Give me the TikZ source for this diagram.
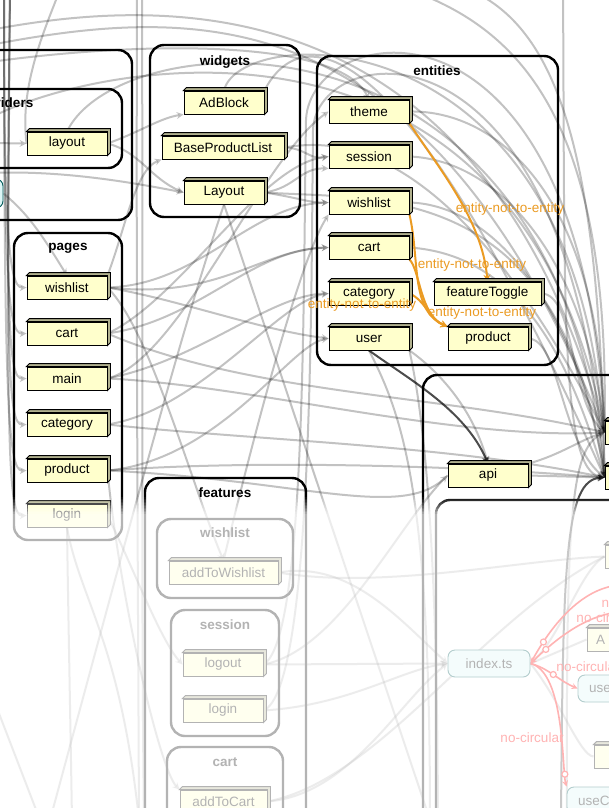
\documentclass[tikz,border=0pt]{standalone}
\usepackage{fontspec}
\setmainfont{Liberation Sans}
\usetikzlibrary{arrows,calc}
\definecolor{modfill}{HTML}{FFFFCC}
\definecolor{tsfill}{HTML}{DDF6F6}
\definecolor{rulecol}{RGB}{235,155,35}
\newcommand{\gsize}{\fontsize{13.5}{16}\selectfont}
\pgfdeclarelayer{background}
\pgfdeclarelayer{edges}
\pgfsetlayers{background,edges,main}

\begin{document}
\begin{tikzpicture}[x=1pt,y=-1pt,
    cluster/.style={draw=black,line width=2.4,rounded corners=14},
    clabel/.style={font=\gsize\bfseries},
    module/.style={draw=black,fill=modfill,line width=0.9,minimum width=80,minimum height=23,inner sep=1,font=\gsize},
    tsnode/.style={draw=teal!70!black,fill=tsfill,rounded corners=7,line width=0.9,minimum width=82,minimum height=27,font=\gsize},
    dep/.style={draw=black,opacity=0.24,line width=2},
    deparr/.style={dep,-stealth},
    hotdep/.style={draw=black,opacity=0.7,line width=2,-stealth},
    rule/.style={draw=rulecol,line width=2,-stealth},
    rulelabel/.style={text=rulecol,font=\gsize},
    circ/.style={draw=red,line width=1.6,-stealth},
    circlabel/.style={text=red,font=\gsize},
    ring/.style={draw=red,fill=white,circle,line width=1.2,minimum size=6,inner sep=0}]
    \useasboundingbox (0,0) rectangle (608,808);

    \begin{pgfonlayer}{background}
        \fill[white] (0,0) rectangle (608,808);
        \draw[cluster] (-200,50) rectangle (132,220);
        \draw[cluster] (-117,89) rectangle (122,168);
        \draw[cluster] (150,45) rectangle (300,217);
        \draw[cluster] (317,56) rectangle (558,365);
        \draw[cluster] (14,233) rectangle (122,540);
        \draw[cluster] (145,478) rectangle (306,900);
        \draw[cluster] (157,519) rectangle (293,598);
        \draw[cluster] (171,610) rectangle (279,736);
        \draw[cluster] (167,747) rectangle (283,900);
        \draw[cluster] (423,375) rectangle (900,1000);
        \draw[cluster] (436,500) rectangle (900,1000);
    \end{pgfonlayer}

    \node[clabel] (lProviders) at (2.5,104) {providers};
    \node[clabel] (lWidgets) at (225,62) {widgets};
    \node[clabel] (lEntities) at (437,71) {entities};
    \node[clabel] (lPages) at (68,248) {pages};
    \node[clabel] (lFeatures) at (225,493) {features};
    \node[clabel] (lFWishlist) at (225,533) {wishlist};
    \node[clabel] (lFSession) at (225,625) {session};
    \node[clabel] (lFCart) at (225,762) {cart};

    \node[tsnode,minimum width=62,minimum height=29] (provIndex) at (-28,193.5) {};
    \node[module] (provLayout) at (67,143.5) {layout};

    \node[module] (wAdBlock) at (224,102.5) {AdBlock};
    \node[module,minimum width=122] (wBase) at (223,147.5) {BaseProductList};
    \node[module] (wLayout) at (224,192.5) {Layout};

    \node[module] (eTheme) at (369,111.5) {theme};
    \node[module] (eSession) at (369,156.5) {session};
    \node[module] (eWishlist) at (369,202.5) {wishlist};
    \node[module] (eCart) at (369,247.5) {cart};
    \node[module] (eCategory) at (369,293.5) {category};
    \node[module] (eUser) at (369,338.5) {user};
    \node[module,minimum width=107] (eToggle) at (487.5,293.5) {featureToggle};
    \node[module] (eProduct) at (488,338.5) {product};

    \node[module] (pWishlist) at (67,287.5) {wishlist};
    \node[module] (pCart) at (67,333.5) {cart};
    \node[module] (pMain) at (67,378.5) {main};
    \node[module] (pCategory) at (67,424.5) {category};
    \node[module] (pProduct) at (67,470.5) {product};
    \node[module] (pLogin) at (67,515.5) {login};

    \node[module] (api) at (488,475.5) {api};
    \node[module] (rsA) at (645,432.5) {};
    \node[module] (rsB) at (645,477.5) {};
    \node[module] (rsC) at (645,556.5) {};
    \node[module,text width=62,align=left] (rsD) at (627,639.5) {A};
    \node[module] (rsE) at (634,756.5) {};

    \node[module,minimum width=109] (fAddToWishlist) at (223.5,572.5) {addToWishlist};
    \node[module] (fLogout) at (223,664.5) {logout};
    \node[module] (fLogin) at (223,710.5) {login};
    \node[module,minimum width=87] (fAddToCart) at (223.5,801.5) {addToCart};

    \node[tsnode] (indexTs) at (489,663.5) {index.ts};
    \node[tsnode,text width=60,align=left] (useA) at (619,688.5) {use};
    \node[tsnode,text width=60,align=left] (useC) at (608,800.5) {useC};

    \coordinate (nw1) at (-10,30);
    \coordinate (nw1b) at (-10,45);
    \coordinate (nw2) at (-10,62);
    \coordinate (nw3) at (-10,118);
    \coordinate (nw4) at (-10,143);
    \coordinate (nw5) at (-10,173);
    \coordinate (top1) at (4,-10);
    \coordinate (top2) at (10,-10);
    \coordinate (top3) at (137,-10);
    \coordinate (top4) at (142,-10);
    \coordinate (top5) at (563,-10);
    \coordinate (top6) at (60,-10);
    \coordinate (top7) at (410,-10);
    \coordinate (top8) at (470,-10);
    \coordinate (bot1) at (139,820);
    \coordinate (bot2) at (144,820);
    \coordinate (bot3) at (50,820);
    \coordinate (bot4) at (72,820);
    \coordinate (bot5) at (430,820);
    \coordinate (bot6) at (438,820);
    \coordinate (bot7) at (561,820);
    \coordinate (bot8) at (567,820);
    \coordinate (bot9) at (40,820);
    \coordinate (west6) at (-10,690);
    \coordinate (east1) at (620,585);
    \coordinate (east2) at (620,612);

    \begin{pgfonlayer}{edges}
        \draw[deparr] (nw4) -- (provLayout.west);
        \draw[deparr] (provLayout.east) .. controls (140,132) and (160,118) .. (wAdBlock.south west);
        \draw[deparr] (provLayout.east) .. controls (140,152) and (150,178) .. (wLayout.west);
        \draw[deparr] (nw5) .. controls (60,170) and (130,182) .. (wLayout.west);
        \draw[deparr] (pWishlist.north east) .. controls (125,230) and (135,170) .. (wBase.south west);
        \draw[deparr] (nw2) .. controls (150,40) and (340,40) .. (eTheme.north);
        \draw[dep] (nw1) .. controls (150,0) and (480,-30) .. (rsA.west);
        \draw[dep] (nw1b) .. controls (200,5) and (430,-5) .. (rsA.west);
        \draw[dep] (nw3) .. controls (100,60) and (520,-20) .. (rsA.west);
        \draw[dep] (provLayout.north) .. controls (120,20) and (560,-10) .. (rsB.west);
        \draw[dep] (wAdBlock.north) .. controls (240,20) and (600,10) .. (rsB.west);
        \draw[dep] (wAdBlock.north east) .. controls (290,40) and (380,-25) .. (rsB.west);
        \draw[dep] (top6) .. controls (40,40) and (20,90) .. (provLayout.west);
        \draw[deparr] (top7) .. controls (520,30) and (610,120) .. (rsA.west);
        \draw[deparr] (top8) .. controls (560,30) and (600,160) .. (rsB.west);

        \draw[dep] (top3) .. controls (136,300) and (138,600) .. (bot1);
        \draw[dep] (top4) .. controls (143,300) and (141,600) .. (bot2);
        \draw[deparr] (fLogout.east) .. controls (306,640) and (303,300) .. (306,120) .. controls (310,20) and (580,-30) .. (rsA.west);
        \draw[deparr] (fLogin.east) .. controls (313,690) and (311,300) .. (313,130) .. controls (316,40) and (570,0) .. (rsB.west);

        \draw[deparr] (top1) .. controls (4,220) and (8,288) .. (pWishlist.west);
        \draw[deparr] (top1) .. controls (4,280) and (8,334) .. (pCart.west);
        \draw[deparr] (top2) .. controls (6,320) and (8,379) .. (pMain.west);
        \draw[deparr] (top2) .. controls (6,360) and (8,425) .. (pCategory.west);
        \draw[deparr] (top1) .. controls (4,400) and (8,471) .. (pProduct.west);
        \draw[deparr] (top2) .. controls (6,450) and (8,516) .. (pLogin.west);
        \draw[deparr] (provIndex.east) .. controls (30,215) and (45,240) .. (pWishlist.north);

        \draw[deparr] (pWishlist.east) .. controls (200,285) and (250,205) .. (eWishlist.west);
        \draw[deparr] (pWishlist.east) .. controls (220,300) and (260,250) .. (eCart.west);
        \draw[deparr] (pCart.east) .. controls (200,320) and (250,250) .. (eCart.west);
        \draw[deparr] (pCart.east) .. controls (180,300) and (260,165) .. (eSession.west);
        \draw[deparr] (pMain.east) .. controls (200,360) and (270,295) .. (eCategory.west);
        \draw[deparr] (pCategory.east) .. controls (200,410) and (280,300) .. (eCategory.west);
        \draw[deparr] (pProduct.east) .. controls (220,460) and (290,345) .. (eUser.west);
        \draw[deparr] (pWishlist.east) .. controls (180,300) and (260,330) .. (eUser.west);
        \draw[deparr] (pMain.east) .. controls (180,360) and (260,160) .. (eTheme.west);

        \draw[deparr] (pCart.east) .. controls (250,395) and (450,395) .. (rsA.west);
        \draw[deparr] (pMain.east) .. controls (250,385) and (450,440) .. (rsA.west);
        \draw[deparr] (pCategory.east) .. controls (250,440) and (450,445) .. (rsB.west);
        \draw[deparr] (pProduct.east) .. controls (250,460) and (450,465) .. (rsB.west);
        \draw[deparr] (pProduct.east) .. controls (300,480) and (400,520) .. (api.west);

        \draw[deparr] (wBase.east) .. controls (305,148) and (310,160) .. (eSession.west);
        \draw[deparr] (wLayout.east) .. controls (295,188) and (300,168) .. (eSession.south west);
        \draw[deparr] (wLayout.east) .. controls (300,198) and (310,203) .. (eWishlist.west);
        \draw[dep] (wLayout.south) .. controls (185,320) and (150,450) .. (bot3);
        \draw[dep] (wLayout.south) -- (bot5);
        \draw[deparr] (fAddToWishlist.north) .. controls (255,430) and (300,260) .. (eWishlist.south west);
        \draw[deparr] (wBase.east) .. controls (330,140) and (450,130) .. (rsA.west);
        \draw[deparr] (wLayout.east) .. controls (380,200) and (560,180) .. (rsB.west);

        \draw[deparr] (eTheme.east) .. controls (500,110) and (600,200) .. (rsA.west);
        \draw[deparr] (eSession.east) .. controls (500,160) and (585,260) .. (rsA.west);
        \draw[deparr] (eWishlist.east) .. controls (500,205) and (580,320) .. (rsB.west);
        \draw[deparr] (eCart.east) .. controls (520,255) and (570,360) .. (rsB.west);
        \draw[deparr] (eToggle.east) .. controls (575,294) and (570,400) .. (rsA.west);
        \draw[deparr] (eProduct.east) .. controls (560,340) and (560,440) .. (rsB.west);
        \draw[hotdep] (eUser.south) .. controls (410,380) and (465,410) .. (api.north);
        \draw[deparr] (eUser.south east) .. controls (430,365) and (470,400) .. (api.north);
        \draw[dep] (eUser.south) .. controls (405,420) and (430,500) .. (bot5);
        \draw[dep] (eUser.south east) .. controls (420,400) and (437,500) .. (bot6);
        \draw[deparr] (top5) .. controls (565,300) and (560,470) .. (rsB.west);
        \draw[hotdep] (bot7) .. controls (563,560) and (565,480) .. (rsB.west);
        \draw[deparr] (bot8) .. controls (566,520) and (570,450) .. (rsA.west);
        \draw[deparr] (api.east) -- (rsB.west);
        \draw[deparr] (api.north east) .. controls (560,455) and (580,440) .. (rsA.west);

        \draw[deparr] (pWishlist.east) .. controls (150,330) and (190,480) .. (fAddToWishlist.north);
        \draw[deparr] (pLogin.east) .. controls (130,560) and (160,640) .. (fLogout.west);
        \draw[deparr] (pProduct.east) .. controls (120,600) and (160,770) .. (fAddToCart.north west);
        \draw[dep] (pLogin.south) .. controls (68,600) and (70,700) .. (bot4);
        \draw[dep] (pLogin.south) .. controls (80,600) and (120,640) .. (bot1);
        \draw[dep] (west6) -- (bot9);
        \draw[deparr] (fAddToWishlist.east) .. controls (350,560) and (400,620) .. (indexTs.west);
        \draw[deparr] (fLogout.east) -- (indexTs.west);
        \draw[deparr] (fLogin.east) .. controls (350,705) and (400,670) .. (indexTs.west);
        \draw[deparr] (fAddToCart.east) .. controls (350,795) and (400,700) .. (indexTs.west);
        \draw[dep] (fLogout.east) .. controls (340,650) and (400,520) .. (api.west);
        \draw[dep] (fAddToCart.east) .. controls (380,780) and (480,620) .. (rsC.west);
        \draw[dep] (fAddToWishlist.east) .. controls (380,590) and (520,560) .. (rsC.west);
        \draw[dep] (indexTs.east) .. controls (560,640) and (580,570) .. (rsC.west);
        \draw[dep] (indexTs.east) -- (rsD.west);
        \draw[dep] (indexTs.east) .. controls (560,700) and (580,756) .. (rsE.west);

        \draw[circ] (east1) .. controls (580,588) and (550,628) .. (indexTs.east) node[ring,pos=0.8] {};
        \draw[circ] (east2) .. controls (585,615) and (555,640) .. (indexTs.east) node[ring,pos=0.8] {};
        \draw[circ] (indexTs.east) .. controls (548,668) and (558,680) .. (useA.west) node[ring,pos=0.5] {};
        \draw[circ] (indexTs.east) .. controls (565,672) and (562,770) .. (useC.north west) node[ring,pos=0.85] {};

        \draw[rule] (eTheme.south east) .. controls (440,170) and (482,220) .. (eToggle.north);
        \draw[rule] (eWishlist.south east) .. controls (420,260) and (410,310) .. (eProduct.north west);
        \draw[rule] (eCart.south east) .. controls (420,270) and (420,315) .. (eProduct.north west);
        \draw[rule] (eCategory.east) .. controls (425,300) and (430,320) .. (eProduct.north west);
    \end{pgfonlayer}

    \foreach \n in {provLayout,wAdBlock,wBase,wLayout,eTheme,eSession,eWishlist,eCart,eCategory,eUser,eToggle,eProduct,pWishlist,pCart,pMain,pCategory,pProduct,pLogin,api,rsA,rsB,rsC,rsD,rsE,fAddToWishlist,fLogout,fLogin,fAddToCart}
        \draw[line width=0.9,fill=modfill!70!black] (\n.north west) -- ++(3,-3) -- ($(\n.north east)+(3,-3)$) -- ($(\n.south east)+(3,-3)$) -- (\n.south east) -- (\n.north east) -- cycle;

    \node[rulelabel] (rl1) at (510,209) {entity-not-to-entity};
    \node[rulelabel] (rl2) at (472,265) {entity-not-to-entity};
    \node[rulelabel] (rl3) at (362,305) {entity-not-to-entity};
    \node[rulelabel] (rl4) at (482,313) {entity-not-to-entity};

    \node[circlabel] (nc1) at (633,603) {no-circular};
    \node[circlabel] (nc2) at (608,618) {no-circular};
    \node[circlabel] (nc3) at (588,667) {no-circular};
    \node[circlabel] (nc4) at (532,738) {no-circular};

    \foreach \i in {1,...,12}
        \fill[white,opacity={0.7*\i/12}] (-5,{495.5+1.5*\i}) rectangle (615,{497+1.5*\i});
    \fill[white,opacity=0.7] (-5,515) rectangle (615,815);
\end{tikzpicture}
\end{document}
